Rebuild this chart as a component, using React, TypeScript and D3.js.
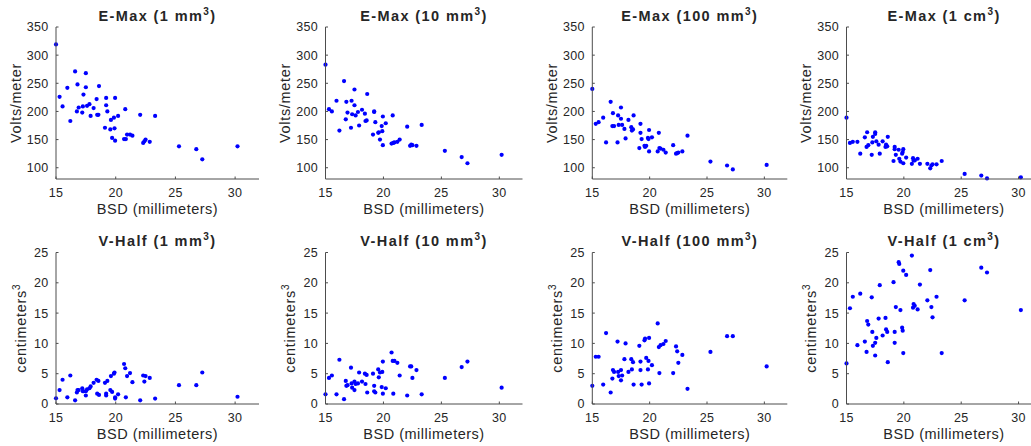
import React from "react";
import * as d3 from "d3";

// Shared subject BSD values (millimeters), sorted
const BSD = [
  15.0, 15.3, 15.55, 15.95, 16.2, 16.6, 16.75, 16.8, 16.9, 17.2,
  17.25, 17.3, 17.5, 17.5, 17.6, 17.8, 17.9, 18.15, 18.4, 18.45,
  18.55, 18.6, 19.1, 19.2, 19.2, 19.3, 19.55, 19.6, 19.7, 19.85,
  19.9, 19.95, 19.95, 20.2, 20.7, 20.8, 20.85, 20.95, 21.2, 21.4,
  22.05, 22.3, 22.4, 22.5, 22.85, 23.3, 25.3, 26.75, 27.25, 30.2,
];

// E-Max (Volts/meter)
const EMAX_1MM = [
  319, 226, 209, 242, 183, 271, 200, 248, 207, 198,
  209, 230, 268, 243, 210, 213, 192, 206, 222, 194,
  194, 245, 171, 224, 211, 200, 168, 185, 153, 189,
  170, 224, 148, 192, 151, 204, 151, 159, 159, 157,
  194, 144, 147, 150, 146, 192, 138, 133, 115, 138,
];
const EMAX_10MM = [
  283, 204, 200, 219, 166, 254, 186, 217, 198, 171,
  219, 195, 239, 211, 193, 199, 175, 203, 196, 183,
  184, 231, 159, 199, 200, 181, 162, 163, 150, 174,
  165, 191, 140, 179, 143, 193, 144, 145, 146, 150,
  173, 139, 141, 140, 139, 176, 130, 119, 108, 123,
];
const EMAX_100MM = [
  240, 178, 181, 189, 145, 217, 174, 197, 174, 145,
  193, 176, 207, 187, 176, 169, 152, 185, 172, 166,
  168, 193, 135, 178, 162, 151, 139, 137, 139, 153,
  151, 167, 129, 154, 129, 162, 135, 134, 132, 127,
  140, 125, 126, 127, 129, 157, 111, 104, 97, 105,
];
const EMAX_1CM = [
  189, 144, 146, 146, 125, 154, 137, 163, 140, 123,
  145, 155, 163, 160, 147, 141, 125, 147, 137, 141,
  138, 155, 112, 137, 133, 123, 132, 116, 111, 125,
  128, 133, 108, 118, 107, 117, 113, 113, 116, 107,
  107, 99, 104, 106, 106, 112, 89, 86, 81, 83,
];

// V-Half (centimeters^3)
const VHALF_1MM = [
  0.94, 2.3, 4.0, 1.1, 4.7, 0.6, 1.9, 2.3, 2.3, 2.6,
  2.1, 2.1, 1.4, 2.1, 2.4, 2.6, 2.9, 3.5, 4.0, 1.7,
  3.8, 1.5, 3.5, 1.4, 1.7, 3.8, 2.3, 4.6, 2.0, 5.0,
  5.2, 0.9, 1.1, 1.6, 6.6, 5.9, 1.1, 4.6, 5.1, 3.6,
  0.6, 4.7, 3.7, 4.6, 4.3, 0.9, 3.1, 3.1, 5.2, 1.2,
];
const VHALF_10MM = [
  1.6, 4.3, 4.7, 1.6, 7.3, 0.8, 3.8, 3.0, 3.1, 6.0,
  3.4, 2.7, 3.7, 2.3, 3.3, 3.4, 5.2, 3.7, 5.0, 3.3,
  4.8, 1.9, 5.0, 2.1, 3.0, 1.9, 5.7, 4.4, 5.2, 2.8,
  5.3, 7.0, 1.7, 2.6, 8.5, 7.1, 1.7, 7.1, 6.8, 4.7,
  1.4, 6.2, 6.2, 4.3, 5.6, 1.6, 4.3, 6.1, 7.0, 2.7,
];
const VHALF_100MM = [
  3.0, 7.8, 7.8, 3.2, 11.7, 1.9, 4.2, 5.6, 5.3, 10.3,
  5.3, 4.6, 5.6, 3.9, 4.7, 7.4, 10.0, 5.3, 7.4, 5.7,
  6.9, 3.2, 9.6, 5.6, 7.0, 3.2, 10.5, 10.8, 7.6, 5.7,
  7.1, 10.9, 3.4, 6.4, 13.3, 9.4, 5.1, 9.7, 9.9, 10.4,
  5.1, 9.5, 8.7, 6.8, 8.1, 2.5, 8.6, 11.2, 11.2, 6.2,
];
const VHALF_1CM = [
  6.7, 15.8, 17.7, 9.7, 18.2, 10.3, 8.6, 13.7, 13.1, 17.6,
  11.9, 9.6, 8.0, 10.1, 10.9, 14.1, 19.6, 11.3, 14.2, 12.3,
  11.9, 6.9, 20.1, 11.9, 10.1, 16.0, 23.4, 23.1, 15.5, 12.6,
  12.1, 22.0, 8.4, 21.3, 24.5, 15.9, 16.5, 16.2, 15.6, 19.7,
  17.1, 22.1, 16.0, 14.3, 17.7, 8.4, 17.1, 22.5, 21.7, 15.5,
];

const VOLUME_UNITS = ["1 mm", "10 mm", "100 mm", "1 cm"];
const X_DOMAIN = [15, 32];
const X_TICKS = [15, 20, 25, 30];
const EMAX_DOMAIN = [80, 350];
const EMAX_TICKS = [100, 150, 200, 250, 300, 350];
const VHALF_DOMAIN = [0, 25];
const VHALF_TICKS = [0, 5, 10, 15, 20, 25];
const X_LABEL = "BSD (millimeters)";

// layout
const W = 1031;
const H = 446;
const COL_LEFT = [56, 325.5, 592.3, 846.5];
const COL_WIDTH = [203, 197, 195, 195];
const ROWS = [
  { top: 27, bottom: 179 },
  { top: 252.5, bottom: 404 },
];
const FONT = "'Liberation Sans', Arial, Helvetica, sans-serif";
const INK = "#262626";
const AXIS = "#4d4d4d";

type PanelProps = {
  left: number;
  width: number;
  top: number;
  bottom: number;
  titleMain: string;
  unit: string;
  yLabel: string;
  yLabelSup: boolean;
  yDomain: number[];
  yTicks: number[];
  values: number[];
};

function Panel(p: PanelProps) {
  const x = d3.scaleLinear().domain(X_DOMAIN).range([p.left, p.left + p.width]);
  const y = d3.scaleLinear().domain(p.yDomain).range([p.bottom, p.top]);
  const cx = p.left + p.width / 2;
  const cy = (p.top + p.bottom) / 2;
  const tickLen = 2.5;
  return (
    <g>
      {p.values.map((v, i) => (
        <circle key={i} cx={x(BSD[i])} cy={y(v)} r={2.1} fill="#0000ff" />
      ))}
      <line x1={p.left} x2={p.left + p.width} y1={p.bottom} y2={p.bottom} stroke={AXIS} strokeWidth={1} />
      <line x1={p.left} x2={p.left} y1={p.top} y2={p.bottom} stroke={AXIS} strokeWidth={1} />
      {X_TICKS.map((t) => (
        <g key={"x" + t}>
          <line x1={x(t)} x2={x(t)} y1={p.bottom} y2={p.bottom - tickLen} stroke={AXIS} strokeWidth={1} />
          <text x={x(t)} y={p.bottom + 17.5} textAnchor="middle" fontSize={12.5} letterSpacing={0.3} fill={INK} fontFamily={FONT}>
            {t}
          </text>
        </g>
      ))}
      {p.yTicks.map((t) => (
        <g key={"y" + t}>
          <line x1={p.left} x2={p.left + tickLen} y1={y(t)} y2={y(t)} stroke={AXIS} strokeWidth={1} />
          <text x={p.left - 7.5} y={y(t) + 4.4} textAnchor="end" fontSize={12.5} letterSpacing={0.3} fill={INK} fontFamily={FONT}>
            {t}
          </text>
        </g>
      ))}
      <text x={cx} y={p.top - 6.5} textAnchor="middle" fontSize={14.5} letterSpacing={1.4} fontWeight="bold" fill={INK} fontFamily={FONT}>
        {p.titleMain + " (" + p.unit}
        <tspan dy={-6} fontSize={10}>3</tspan>
        <tspan dy={6}>)</tspan>
      </text>
      <text x={cx} y={p.bottom + 35} textAnchor="middle" fontSize={14.5} letterSpacing={0.5} fill={INK} fontFamily={FONT}>
        {X_LABEL}
      </text>
      <text
        transform={`translate(${p.left - (p.yLabelSup ? 30.5 : 35.5)},${cy}) rotate(-90)`}
        textAnchor="middle"
        fontSize={14.5}
        letterSpacing={0.7}
        fill={INK}
        fontFamily={FONT}
      >
        {p.yLabel}
        {p.yLabelSup ? <tspan dy={-6} fontSize={10}>3</tspan> : null}
      </text>
    </g>
  );
}

export default function App() {
  const emax = [EMAX_1MM, EMAX_10MM, EMAX_100MM, EMAX_1CM];
  const vhalf = [VHALF_1MM, VHALF_10MM, VHALF_100MM, VHALF_1CM];
  return (
    <svg
      width={W}
      height={H}
      style={{ position: "absolute", left: 0, top: 0, background: "#fff", overflow: "hidden" }}
    >
      <rect x={0} y={0} width={W} height={H} fill="#fff" />
      {VOLUME_UNITS.map((u, c) => (
        <Panel
          key={"e" + c}
          left={COL_LEFT[c]}
          width={COL_WIDTH[c]}
          top={ROWS[0].top}
          bottom={ROWS[0].bottom}
          titleMain="E-Max"
          unit={u}
          yLabel="Volts/meter"
          yLabelSup={false}
          yDomain={EMAX_DOMAIN}
          yTicks={EMAX_TICKS}
          values={emax[c]}
        />
      ))}
      {VOLUME_UNITS.map((u, c) => (
        <Panel
          key={"v" + c}
          left={COL_LEFT[c]}
          width={COL_WIDTH[c]}
          top={ROWS[1].top}
          bottom={ROWS[1].bottom}
          titleMain="V-Half"
          unit={u}
          yLabel="centimeters"
          yLabelSup={true}
          yDomain={VHALF_DOMAIN}
          yTicks={VHALF_TICKS}
          values={vhalf[c]}
        />
      ))}
    </svg>
  );
}
